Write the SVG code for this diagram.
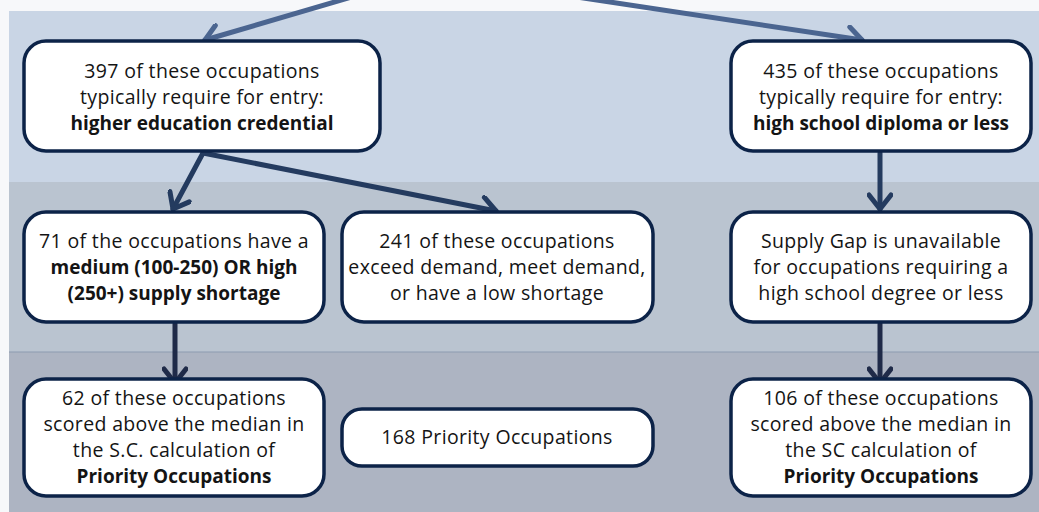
<svg xmlns="http://www.w3.org/2000/svg" width="1039" height="512" viewBox="0 0 1039 512">
  <style>
    .box { fill: #ffffff; stroke: #0c2348; stroke-width: 3.5; }
    .t { font-family: "Open Sans", "Noto Sans", sans-serif; font-size: 19.5px; letter-spacing: 0.35px; fill: #141414; text-anchor: middle; }
    .b { font-weight: bold; font-size: 19px; letter-spacing: 0; }
    .c1 { stroke: #4b6590; stroke-width: 5; fill: none; stroke-linecap: round; }
    .c2 { stroke: #243b5f; stroke-width: 5; fill: none; stroke-linecap: round; }
    .c3 { stroke: #1f2a48; stroke-width: 5; fill: none; stroke-linecap: round; }
  </style>
  <defs>
    <marker id="m1" viewBox="-17 -13 21 26" markerWidth="21" markerHeight="26" refX="0" refY="0" orient="auto" markerUnits="userSpaceOnUse">
      <path d="M -14 -11 L 0 0 L -14 11" fill="none" stroke="#4b6590" stroke-width="5" stroke-linecap="round" stroke-linejoin="round"/>
    </marker>
    <marker id="m2" viewBox="-17 -13 21 26" markerWidth="21" markerHeight="26" refX="0" refY="0" orient="auto" markerUnits="userSpaceOnUse">
      <path d="M -14 -11 L 0 0 L -14 11" fill="none" stroke="#243b5f" stroke-width="5" stroke-linecap="round" stroke-linejoin="round"/>
    </marker>
    <marker id="m3" viewBox="-17 -13 21 26" markerWidth="21" markerHeight="26" refX="0" refY="0" orient="auto" markerUnits="userSpaceOnUse">
      <path d="M -14 -11 L 0 0 L -14 11" fill="none" stroke="#1f2a48" stroke-width="5" stroke-linecap="round" stroke-linejoin="round"/>
    </marker>
  </defs>

  <!-- page and tier bands -->
  <rect x="0" y="0" width="1039" height="512" fill="#f7f8fa"/>
  <rect x="9" y="11" width="1030" height="171" fill="#c9d5e5"/>
  <rect x="9" y="182" width="1030" height="170" fill="#bac4d0"/>
  <rect x="9" y="352" width="1030" height="160" fill="#adb4c2"/>
  <line x1="9" y1="352" x2="1039" y2="352" stroke="#8d9bb0" stroke-width="1"/>

  <!-- connectors -->
  <g id="connectors">
    <line class="c1" x1="355" y1="-4" x2="205" y2="40" marker-end="url(#m1)"/>
    <line class="c1" x1="570" y1="-4" x2="862" y2="40" marker-end="url(#m1)"/>
    <line class="c2" x1="203" y1="153" x2="173" y2="209" marker-end="url(#m2)"/>
    <line class="c2" x1="203" y1="153" x2="496" y2="211" marker-end="url(#m2)"/>
    <line class="c2" x1="880" y1="153" x2="880" y2="209" marker-end="url(#m2)"/>
    <line class="c3" x1="175" y1="324" x2="175" y2="383" marker-end="url(#m3)"/>
    <line class="c3" x1="880" y1="324" x2="880" y2="383" marker-end="url(#m3)"/>
  </g>

  <g id="node-higher-ed">
    <rect class="box" x="24" y="41" width="356" height="110" rx="22"/>
    <text class="t" x="202" y="78">397 of these occupations</text>
    <text class="t" x="202" y="104">typically require for entry:</text>
    <text class="t b" x="202" y="130">higher education credential</text>
  </g>

  <g id="node-high-school">
    <rect class="box" x="731" y="41" width="300" height="110" rx="22"/>
    <text class="t" x="881" y="78">435 of these occupations</text>
    <text class="t" x="881" y="104">typically require for entry:</text>
    <text class="t b" x="881" y="130">high school diploma or less</text>
  </g>

  <g id="node-shortage">
    <rect class="box" x="24" y="212" width="300" height="110" rx="22"/>
    <text class="t" x="174" y="248">71 of the occupations have a</text>
    <text class="t b" x="174" y="274">medium (100-250) OR high</text>
    <text class="t b" x="174" y="300">(250+) supply shortage</text>
  </g>

  <g id="node-low-shortage">
    <rect class="box" x="342" y="212" width="311" height="110" rx="22"/>
    <text class="t" x="497" y="248">241 of these occupations</text>
    <text class="t" x="497" y="274">exceed demand, meet demand,</text>
    <text class="t" x="497" y="300">or have a low shortage</text>
  </g>

  <g id="node-supply-gap">
    <rect class="box" x="731" y="212" width="300" height="110" rx="22"/>
    <text class="t" x="881" y="248">Supply Gap is unavailable</text>
    <text class="t" x="881" y="274">for occupations requiring a</text>
    <text class="t" x="881" y="300">high school degree or less</text>
  </g>

  <g id="node-priority-higher-ed">
    <rect class="box" x="24" y="379" width="300" height="117" rx="22"/>
    <text class="t" x="174" y="405">62 of these occupations</text>
    <text class="t" x="174" y="431">scored above the median in</text>
    <text class="t" x="174" y="457">the S.C. calculation of</text>
    <text class="t b" x="174" y="483">Priority Occupations</text>
  </g>

  <g id="node-priority-total">
    <rect class="box" x="342" y="409" width="311" height="57" rx="20"/>
    <text class="t" x="497" y="444">168 Priority Occupations</text>
  </g>

  <g id="node-priority-high-school">
    <rect class="box" x="731" y="379" width="300" height="117" rx="22"/>
    <text class="t" x="881" y="405">106 of these occupations</text>
    <text class="t" x="881" y="431">scored above the median in</text>
    <text class="t" x="881" y="457">the SC calculation of</text>
    <text class="t b" x="881" y="483">Priority Occupations</text>
  </g>
</svg>
